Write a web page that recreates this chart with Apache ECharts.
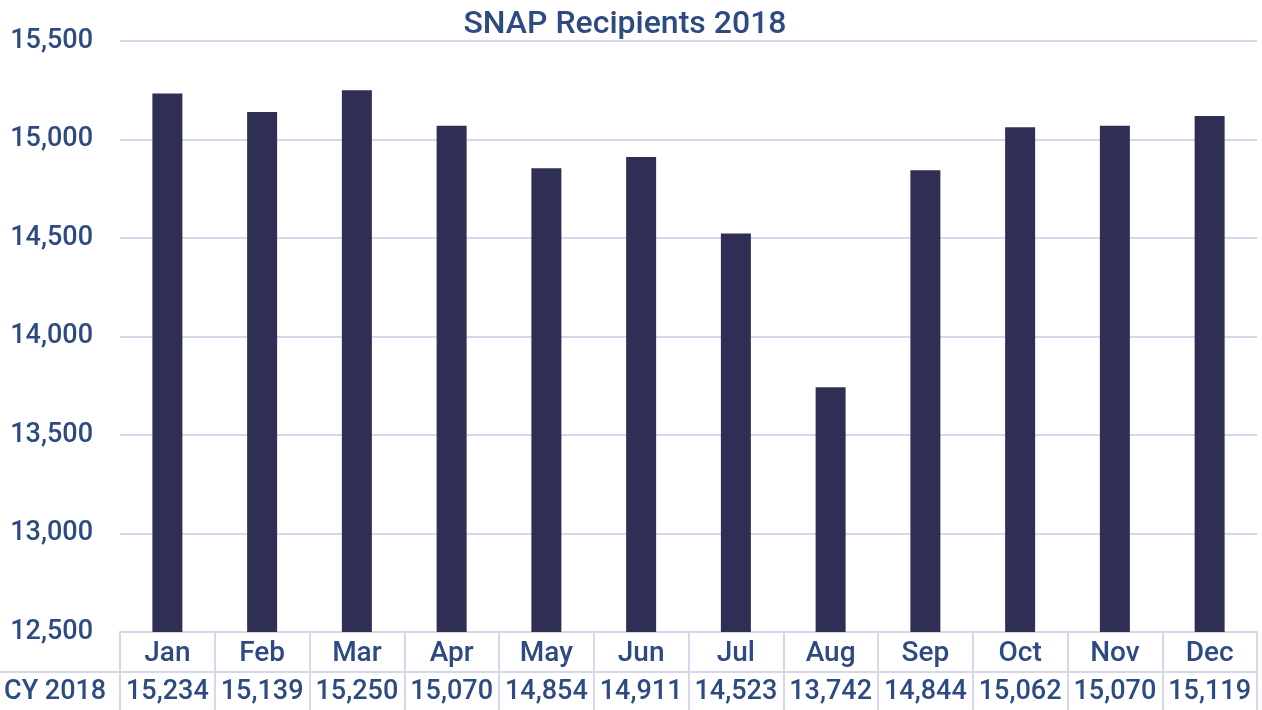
<!DOCTYPE html>
<html>
<head>
<meta charset="utf-8">
<script src="https://cdn.jsdelivr.net/npm/echarts@6/dist/echarts.min.js"></script>
<style>
html,body{margin:0;padding:0;background:#fff;}
#chart{width:1262px;height:710px;}
</style>
</head>
<body>
<div id="chart"></div>
<script>
const title = 'SNAP Recipients 2018';
const seriesName = 'CY 2018';
const months = ['Jan','Feb','Mar','Apr','May','Jun','Jul','Aug','Sep','Oct','Nov','Dec'];
const values = [15234, 15139, 15250, 15070, 14854, 14911, 14523, 13742, 14844, 15062, 15070, 15119];
const yMin = 12500, yMax = 15500, yStep = 500;

const textColor = '#2d4b82';
const lineColor = '#d8d6ea';
const barColor = '#2f2f55';
const font = 'Roboto, "Liberation Sans", Arial, sans-serif';
const fw = 500;
const fmt = v => v.toLocaleString('en-US');

const chart = echarts.init(document.getElementById('chart'));
chart.setOption({
  animation: false,
  backgroundColor: '#fff',
  title: {
    text: title, left: 620, textAlign: 'center', top: 4,
    textStyle: {color: textColor, fontSize: 32, fontWeight: fw, fontFamily: font}
  },
  grid: {left: 120, right: 5, top: 41, bottom: 78},
  xAxis: [{
    type: 'category', data: months, position: 'bottom',
    axisLine: {show: true, lineStyle: {color: lineColor, width: 2}},
    axisTick: {show: true, interval: 0, alignWithLabel: false, length: 40, lineStyle: {color: lineColor, width: 2}},
    axisLabel: {interval: 0, color: textColor, fontSize: 28, fontWeight: fw, fontFamily: font, margin: 8, lineHeight: 28}
  }, {
    type: 'category', data: values.map(fmt), position: 'bottom', offset: 40,
    axisLine: {show: true, lineStyle: {color: lineColor, width: 2}},
    axisTick: {show: true, interval: 0, alignWithLabel: false, length: 38, lineStyle: {color: lineColor, width: 2}},
    axisLabel: {interval: 0, color: textColor, fontSize: 27, fontWeight: fw, fontFamily: font, margin: 7, lineHeight: 27}
  }],
  yAxis: {
    type: 'value', min: yMin, max: yMax, interval: yStep,
    axisLine: {show: false}, axisTick: {show: false},
    splitLine: {lineStyle: {color: lineColor, width: 2}},
    axisLabel: {color: textColor, fontSize: 27, fontWeight: fw, fontFamily: font, margin: 27, formatter: v => fmt(v)}
  },
  series: [{
    type: 'bar', name: seriesName, data: values, xAxisIndex: 0,
    barWidth: 30, itemStyle: {color: barColor}
  }],
  graphic: [{
    type: 'line', shape: {x1: 0, y1: 672, x2: 121, y2: 672},
    style: {stroke: lineColor, lineWidth: 2}
  }, {
    type: 'text', left: 4, top: 679,
    style: {text: seriesName, fill: textColor, font: fw + ' 27px ' + font}
  }]
});
</script>
</body>
</html>
